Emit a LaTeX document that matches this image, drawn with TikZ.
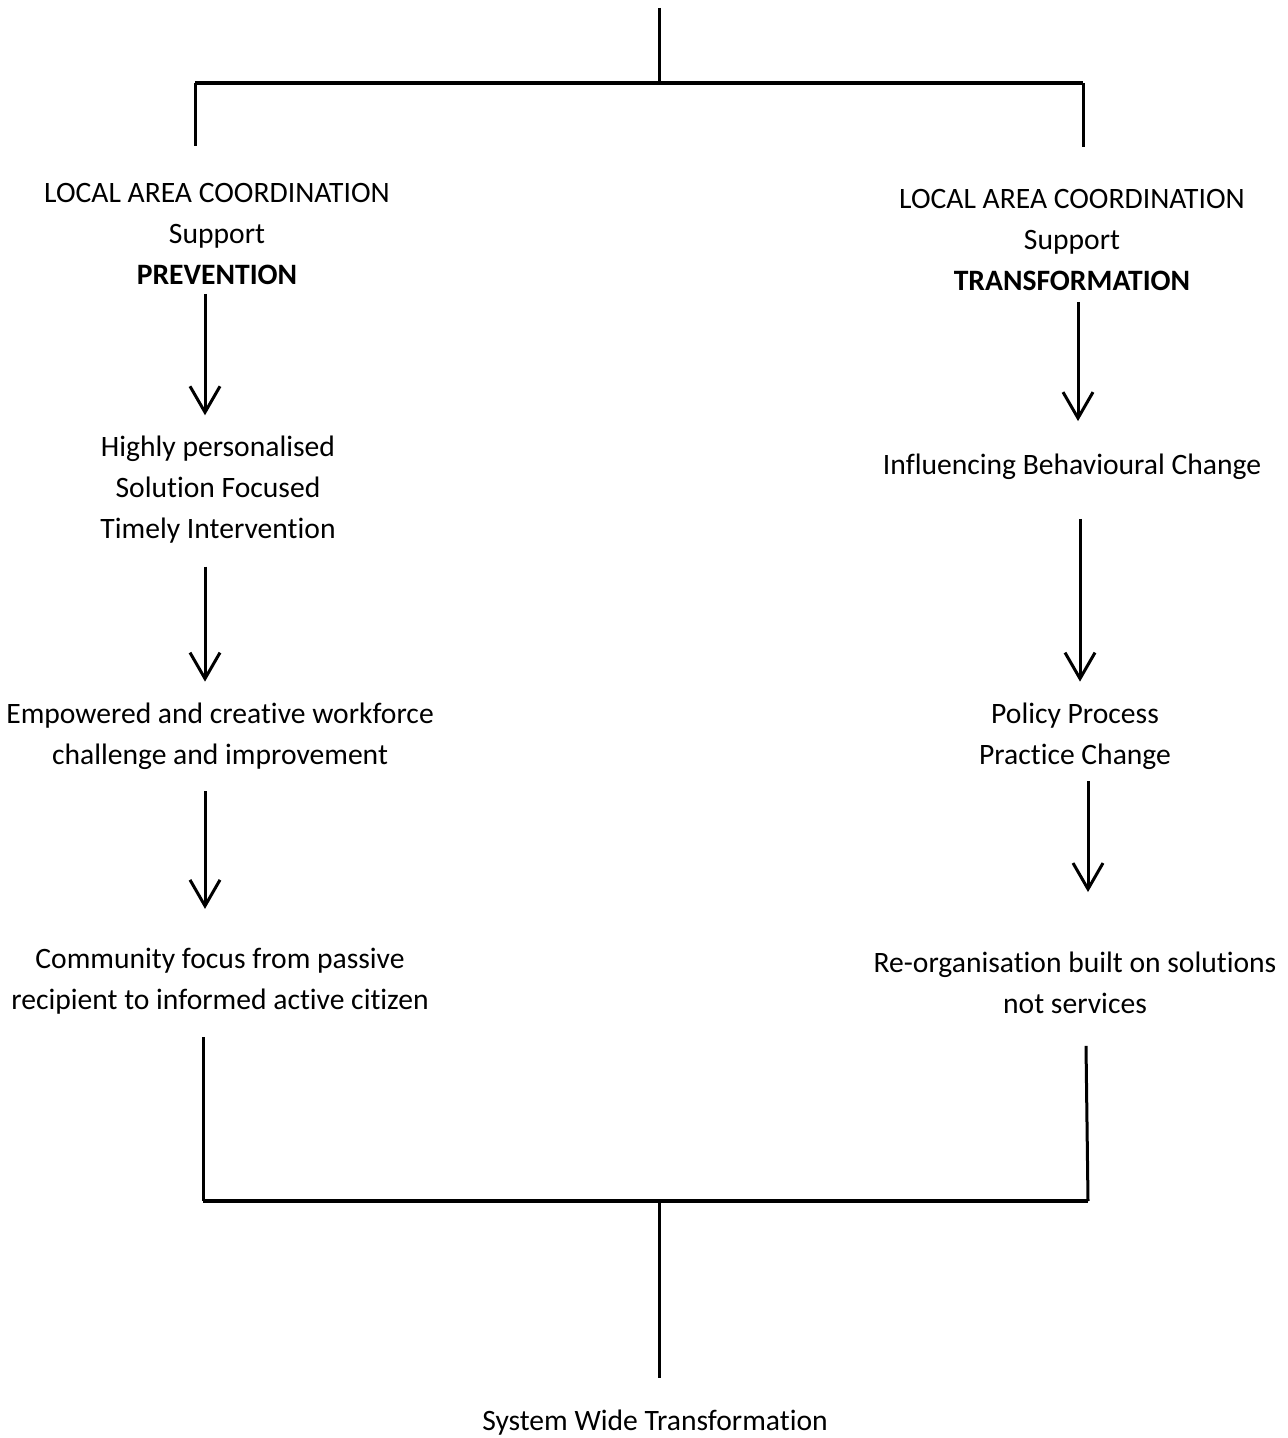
\documentclass[tikz,border=0pt]{standalone}
\usepackage{fontspec}
\setmainfont[Ligatures=NoCommon]{Carlito}
\usetikzlibrary{arrows.meta}
\tikzset{
  every picture/.style={line join=round},
  txt/.style={align=center, font=\fontsize{14.8}{20.5}\selectfont},
  link/.style={line width=1.5pt},
  bar/.style={line width=2pt},
  arr/.style={line width=1.5pt, -{Straight Barb[length=13pt,width=15pt]}},
}
\begin{document}
\begin{tikzpicture}[x=0.5pt,y=-0.5pt]
\useasboundingbox (0,0) rectangle (1288,1438);
% text blocks
\node[txt] (lac1) at (217,234) {LOCAL AREA COORDINATION\\Support\\\textbf{PREVENTION}};
\node[txt] (hp) at (218,490) {Highly personalised\\Solution Focused\\Timely Intervention};
\node[txt] (ew) at (220,736) {Empowered and creative workforce\\challenge and improvement};
\node[txt] (cf) at (220,981) {Community focus from passive\\recipient to informed active citizen};
\node[txt] (lac2) at (1072,240) {LOCAL AREA COORDINATION\\Support\\\textbf{TRANSFORMATION}};
\node[txt] (ib) at (1072,467) {Influencing Behavioural Change};
\node[txt] (pp) at (1075,736) {Policy Process\\Practice Change};
\node[txt] (ro) at (1075,983) {Re-organisation built on solutions\\not services};
\node[txt] (swt) at (655,1423) {System Wide Transformation};
% joints
\coordinate (root) at (659,8);
\coordinate (tm) at (659,83);
\coordinate (tl) at (195,83);
\coordinate (tr) at (1083,83);
\coordinate (bl) at (203,1201);
\coordinate (br) at (1088,1201);
\coordinate (bm) at (659,1201);
% columns of the arrows
\coordinate (xl) at (205,0);
\coordinate (xr1) at (1078,0);
\coordinate (xr2) at (1080,0);
\coordinate (xr3) at (1088,0);
% top fork
\draw[link] (root) -- (tm);
\draw[bar] (tl) -- (tr);
\draw[link] (tl) -- ([yshift=15pt]tl |- lac1.north);
\draw[link] (tr) -- ([yshift=17.5pt]tr |- lac2.north);
% left chain
\draw[arr] ([yshift=-1pt]xl |- lac1.south) -- ([yshift=7pt]xl |- hp.north);
\draw[arr] ([yshift=-8pt]xl |- hp.south) -- ([yshift=7pt]xl |- ew.north);
\draw[arr] ([yshift=-7.5pt]xl |- ew.south) -- ([yshift=16pt]xl |- cf.north);
% right chain
\draw[arr] ([yshift=-2pt]xr1 |- lac2.south) -- ([yshift=13pt]xr1 |- ib.north);
\draw[arr] ([yshift=-16pt]xr2 |- ib.south) -- ([yshift=7pt]xr2 |- pp.north);
\draw[arr] ([yshift=-2.5pt]xr3 |- pp.south) -- ([yshift=26.5pt]xr3 |- ro.north);
% bottom fork
\draw[link] ([yshift=-8pt]bl |- cf.south) -- (bl);
\draw[link] ([yshift=-12.5pt,xshift=-1pt]br |- ro.south) -- (br);
\draw[bar] (bl) -- (br);
\draw[link] (bm) -- ([yshift=12.5pt]bm |- swt.north);
\end{tikzpicture}
\end{document}
